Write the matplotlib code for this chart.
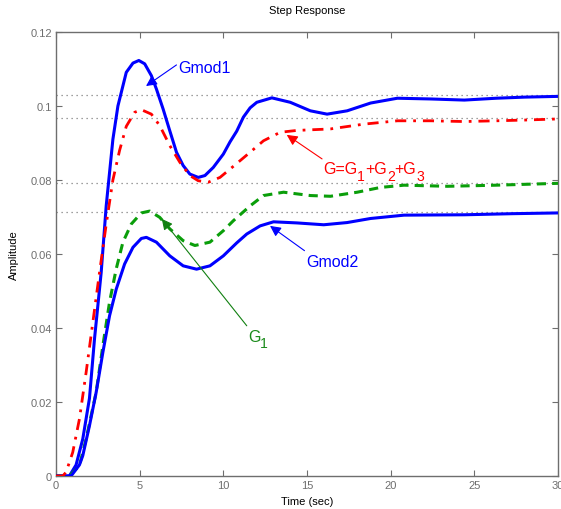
import numpy as np
import matplotlib
matplotlib.use("Agg")
import matplotlib.pyplot as plt
from matplotlib.font_manager import FontProperties

plt.rcParams['font.family'] = ['Liberation Sans', 'DejaVu Sans']

#step responses (time in sec, amplitude)
t_gmod1 = [0, 0.8, 1.2, 1.6, 2.0, 2.3, 2.7, 3.0, 3.4, 3.7, 4.2, 4.6, 4.95, 5.3, 5.7, 6.0,
           6.4, 6.8, 7.2, 7.6, 8.0, 8.5, 8.9, 9.4, 10.0, 10.4, 10.8, 11.2, 11.6, 12.0, 12.9,
           14.0, 15.2, 16.2, 17.4, 18.8, 20.4, 22.4, 24.4, 26.3, 28.0, 30.0]
y_gmod1 = [0, 0, 0.003, 0.010, 0.021, 0.037, 0.055, 0.073, 0.091, 0.100, 0.1091, 0.1116, 0.1123,
           0.1114, 0.1082, 0.1046, 0.0992, 0.0933, 0.0875, 0.0839, 0.0816, 0.0807, 0.0812,
           0.0834, 0.0870, 0.0903, 0.0932, 0.0970, 0.0995, 0.1010, 0.1022, 0.1010, 0.0987,
           0.0978, 0.0987, 0.1008, 0.1021, 0.1019, 0.1016, 0.1021, 0.1024, 0.1026]

t_g = [0, 0.4, 0.6, 1.0, 1.4, 1.8, 2.2, 2.6, 3.0, 3.4, 3.8, 4.2, 4.7, 5.1, 5.7, 6.2, 6.8,
       7.4, 8.0, 8.5, 9.1, 9.8, 10.6, 11.6, 12.4, 13.4, 14.4, 16.4, 18.4, 20.4, 22.4, 24.4,
       26.3, 28.0, 30.0]
y_g = [0, 0, 0.001, 0.0064, 0.0154, 0.028, 0.0415, 0.055, 0.068, 0.080, 0.088, 0.0945,
       0.0983, 0.0990, 0.0978, 0.0947, 0.0893, 0.0848, 0.0812, 0.0798, 0.0794, 0.0807,
       0.0837, 0.0875, 0.0906, 0.0929, 0.0934, 0.0938, 0.0951, 0.0960, 0.0960, 0.0958,
       0.0960, 0.0962, 0.0965]

t_g1 = [0, 0.8, 1.4, 1.8, 2.4, 2.8, 3.2, 3.6, 4.0, 4.5, 5.1, 5.6, 6.2, 6.8, 7.6, 8.3, 9.2,
        10.0, 10.6, 11.6, 12.4, 13.6, 15.2, 16.4, 18.0, 19.4, 20.8, 23.4, 26.3, 30.0]
y_g1 = [0, 0, 0.0028, 0.010, 0.0226, 0.0352, 0.047, 0.056, 0.0632, 0.0681, 0.0711, 0.0716,
        0.0699, 0.0668, 0.0636, 0.0623, 0.0632, 0.0663, 0.0690, 0.0730, 0.0758, 0.0767,
        0.0758, 0.0756, 0.0767, 0.0780, 0.0786, 0.0783, 0.0786, 0.0791]

t_gmod2 = [0, 0.9, 1.4, 1.6, 2.0, 2.4, 2.8, 3.2, 3.6, 4.1, 4.6, 5.1, 5.4, 6.0, 6.8, 7.6, 8.4,
           9.2, 10.0, 10.8, 11.4, 12.2, 13.0, 14.4, 16.0, 17.4, 18.8, 20.8, 24.4, 27.3, 30.0]
y_gmod2 = [0, 0, 0.003, 0.0055, 0.0136, 0.0226, 0.0334, 0.0433, 0.0505, 0.0573, 0.0618,
           0.0642, 0.0645, 0.0632, 0.0595, 0.0568, 0.0559, 0.0568, 0.0595, 0.0630, 0.0654,
           0.0676, 0.0687, 0.0684, 0.0679, 0.0685, 0.0696, 0.0705, 0.0706, 0.0709, 0.0711]

#steady state levels (dotted)
ss_levels = [0.1031, 0.0967, 0.0792, 0.0713]

x_ticks = [0, 5, 10, 15, 20, 25, 30]
y_ticks = [0, 0.02, 0.04, 0.06, 0.08, 0.1, 0.12]
y_tick_labels = ["0", "0.02", "0.04", "0.06", "0.08", "0.1", "0.12"]

BLUE = "#0000ff"
RED = "#ff0000"
GREEN = "#0a9e0a"
DKGREEN = "#1a8a1a"
AXGRAY = "#6e6e6e"
FS = 11.5

fig = plt.figure(figsize=(5.61, 5.10), dpi=100)
ax = fig.add_axes([56 / 561, 33 / 510, 502 / 561, 444 / 510])
ax.set_xlim(0, 30)
ax.set_ylim(0, 0.12)

for lvl in ss_levels:
    ax.plot([0, 30], [lvl, lvl], color="#808080", lw=0.9, ls=(0, (1, 3)), zorder=1)

ax.plot(t_gmod1, y_gmod1, color=BLUE, lw=2.2, zorder=3)
ax.plot(t_g, y_g, color=RED, lw=2.0, ls=(0, (4, 2.5, 1, 2.5)), zorder=4)
ax.plot(t_g1, y_g1, color=GREEN, lw=2.2, ls=(0, (3, 2)), zorder=3)
ax.plot(t_gmod2, y_gmod2, color=BLUE, lw=2.2, zorder=3)

renderer = fig.canvas.get_renderer()

def arrow(head, tail, color):
    ax.annotate("", xy=head, xytext=tail,
                arrowprops=dict(arrowstyle="-|>", color=color, lw=0.8,
                                mutation_scale=16, shrinkA=0, shrinkB=0), zorder=5)

def rich_text(pos, pieces, color):
    #pieces: (text, is_subscript), laid out left to right like matlab tex
    dx = 0
    for s, sub in pieces:
        size = FS * 0.88 if sub else FS
        ax.annotate(s, pos, xytext=(dx, -5 if sub else 0), textcoords="offset points",
                    fontsize=size, color=color, ha="left", va="center", zorder=5)
        fp = FontProperties(family="Liberation Sans", size=size)
        w, h, d = renderer.get_text_width_height_descent(s, fp, ismath=False)
        dx += w * 72 / fig.dpi

arrow((5.38, 0.1054), (7.2, 0.1111), BLUE)
rich_text((7.3, 0.1103), [("Gmod1", False)], BLUE)

arrow((13.79, 0.0922), (15.9, 0.0857), RED)
rich_text((15.96, 0.0830), [("G=G", False), ("1", True), ("+G", False), ("2", True),
                            ("+G", False), ("3", True)], RED)

arrow((12.79, 0.0676), (14.85, 0.0609), BLUE)
rich_text((14.94, 0.0581), [("Gmod2", False)], BLUE)

arrow((6.32, 0.0695), (11.4, 0.0406), "#118011")
rich_text((11.46, 0.0378), [("G", False), ("1", True)], DKGREEN)

ax.set_xticks(x_ticks)
ax.set_yticks(y_ticks)
ax.set_yticklabels(y_tick_labels)
ax.tick_params(direction="in", top=True, right=True, length=4, width=0.8,
               colors=AXGRAY, labelsize=8, pad=3)
for sp in ax.spines.values():
    sp.set_color(AXGRAY)
    sp.set_linewidth(1.0)

ax.set_title("Step Response", fontsize=8, pad=14)
ax.set_xlabel("Time (sec)", fontsize=8, labelpad=4)
ax.set_ylabel("Amplitude", fontsize=8, labelpad=8)

fig.savefig("out.png", dpi=100)
